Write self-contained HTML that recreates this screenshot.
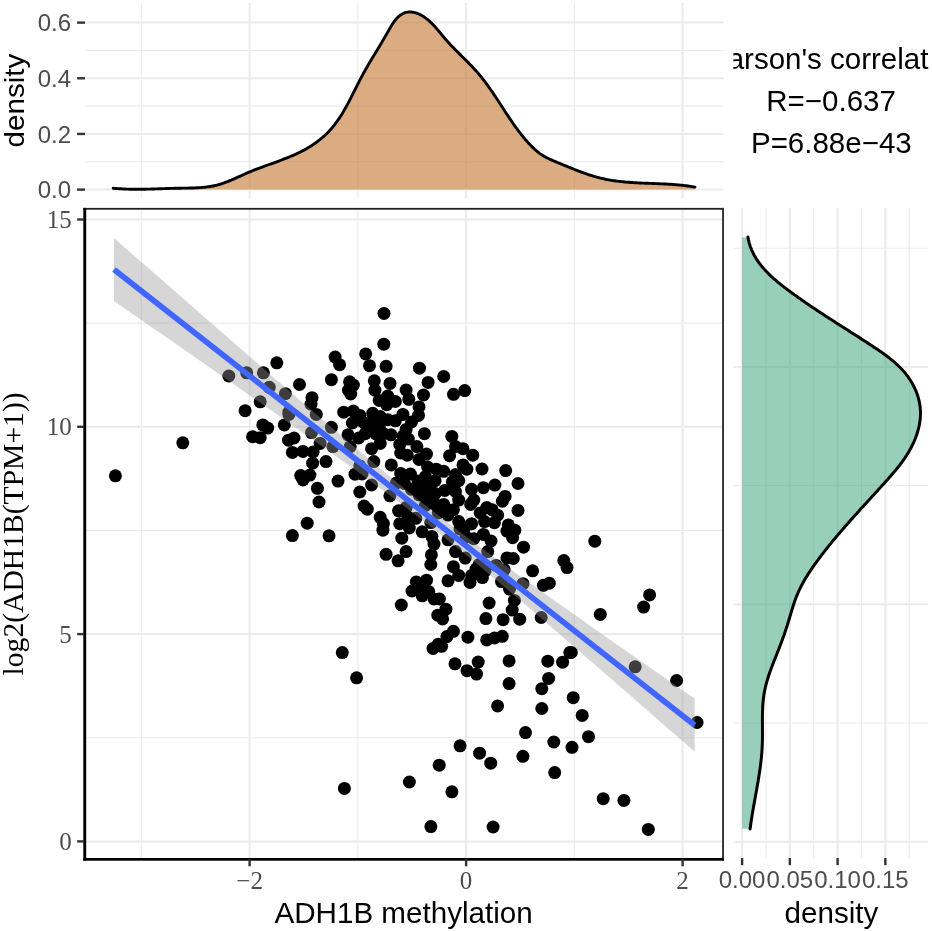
<!DOCTYPE html>
<html><head><meta charset="utf-8"><style>
html,body{margin:0;padding:0;background:#fff;}
svg{display:block;will-change:transform;}

</style></head><body>
<svg width="932" height="931" viewBox="0 0 932 931">
<rect width="932" height="931" fill="#fff"/>
<line x1="85.5" y1="189.60" x2="723.5" y2="189.60" stroke="#ebebeb" stroke-width="2.00"/>
<line x1="85.5" y1="161.77" x2="723.5" y2="161.77" stroke="#ebebeb" stroke-width="1.10"/>
<line x1="85.5" y1="133.94" x2="723.5" y2="133.94" stroke="#ebebeb" stroke-width="2.00"/>
<line x1="85.5" y1="106.11" x2="723.5" y2="106.11" stroke="#ebebeb" stroke-width="1.10"/>
<line x1="85.5" y1="78.28" x2="723.5" y2="78.28" stroke="#ebebeb" stroke-width="2.00"/>
<line x1="85.5" y1="50.45" x2="723.5" y2="50.45" stroke="#ebebeb" stroke-width="1.10"/>
<line x1="85.5" y1="22.62" x2="723.5" y2="22.62" stroke="#ebebeb" stroke-width="2.00"/>
<line x1="141.35" y1="3.0" x2="141.35" y2="198.5" stroke="#ebebeb" stroke-width="1.10"/>
<line x1="249.60" y1="3.0" x2="249.60" y2="198.5" stroke="#ebebeb" stroke-width="2.00"/>
<line x1="357.85" y1="3.0" x2="357.85" y2="198.5" stroke="#ebebeb" stroke-width="1.10"/>
<line x1="466.10" y1="3.0" x2="466.10" y2="198.5" stroke="#ebebeb" stroke-width="2.00"/>
<line x1="574.35" y1="3.0" x2="574.35" y2="198.5" stroke="#ebebeb" stroke-width="1.10"/>
<line x1="682.60" y1="3.0" x2="682.60" y2="198.5" stroke="#ebebeb" stroke-width="2.00"/>
<path d="M113.20,188.20 L114.68,188.34 L116.15,188.47 L117.63,188.59 L119.10,188.70 L120.57,188.80 L122.04,188.88 L123.51,188.96 L124.98,189.03 L126.45,189.09 L127.91,189.14 L129.38,189.18 L130.84,189.21 L132.31,189.24 L133.77,189.26 L135.23,189.27 L136.70,189.27 L138.16,189.27 L139.62,189.26 L141.08,189.25 L142.54,189.23 L144.00,189.21 L145.46,189.18 L146.92,189.15 L148.38,189.12 L149.85,189.08 L151.31,189.04 L152.77,189.00 L154.23,188.95 L155.69,188.90 L157.15,188.86 L158.62,188.81 L160.08,188.76 L161.55,188.71 L163.01,188.66 L164.48,188.61 L165.95,188.56 L167.41,188.51 L168.88,188.46 L170.35,188.42 L171.83,188.38 L173.30,188.34 L174.77,188.30 L176.25,188.27 L177.73,188.24 L179.20,188.21 L180.68,188.19 L182.17,188.17 L183.65,188.15 L185.13,188.13 L186.61,188.11 L188.09,188.09 L189.57,188.06 L191.05,188.02 L192.53,187.98 L194.01,187.93 L195.49,187.87 L196.96,187.80 L198.43,187.72 L199.89,187.63 L201.36,187.52 L202.82,187.40 L204.27,187.26 L205.73,187.10 L207.17,186.92 L208.61,186.73 L210.05,186.51 L211.48,186.26 L212.91,186.00 L214.33,185.71 L215.74,185.39 L217.14,185.04 L218.54,184.67 L219.93,184.26 L221.32,183.84 L222.69,183.38 L224.07,182.91 L225.43,182.41 L226.80,181.90 L228.16,181.37 L229.51,180.82 L230.87,180.26 L232.22,179.68 L233.57,179.10 L234.91,178.51 L236.26,177.90 L237.60,177.30 L238.95,176.69 L240.29,176.08 L241.64,175.46 L242.99,174.85 L244.34,174.24 L245.69,173.64 L247.04,173.04 L248.40,172.45 L249.76,171.87 L251.13,171.30 L252.50,170.73 L253.87,170.18 L255.24,169.64 L256.62,169.10 L258.00,168.57 L259.38,168.05 L260.77,167.54 L262.15,167.02 L263.54,166.52 L264.93,166.01 L266.31,165.51 L267.70,165.01 L269.09,164.51 L270.48,164.02 L271.87,163.52 L273.26,163.02 L274.64,162.53 L276.03,162.03 L277.41,161.52 L278.79,161.02 L280.17,160.51 L281.55,160.00 L282.93,159.48 L284.30,158.95 L285.66,158.42 L287.03,157.88 L288.39,157.33 L289.74,156.78 L291.10,156.21 L292.44,155.64 L293.78,155.05 L295.12,154.46 L296.45,153.85 L297.77,153.23 L299.09,152.59 L300.40,151.94 L301.71,151.28 L303.01,150.60 L304.30,149.91 L305.58,149.20 L306.85,148.47 L308.11,147.74 L309.36,146.98 L310.60,146.21 L311.83,145.43 L313.05,144.63 L314.26,143.81 L315.46,142.98 L316.64,142.13 L317.81,141.26 L318.96,140.38 L320.11,139.48 L321.23,138.56 L322.34,137.63 L323.44,136.68 L324.52,135.71 L325.58,134.72 L326.62,133.72 L327.65,132.70 L328.66,131.66 L329.65,130.60 L330.62,129.52 L331.57,128.43 L332.51,127.32 L333.43,126.19 L334.33,125.05 L335.22,123.89 L336.09,122.72 L336.95,121.54 L337.79,120.34 L338.62,119.13 L339.44,117.91 L340.25,116.68 L341.04,115.43 L341.82,114.18 L342.59,112.92 L343.35,111.64 L344.10,110.36 L344.84,109.08 L345.58,107.78 L346.30,106.48 L347.02,105.17 L347.73,103.86 L348.43,102.54 L349.13,101.22 L349.82,99.89 L350.51,98.56 L351.19,97.23 L351.87,95.90 L352.55,94.57 L353.22,93.23 L353.89,91.90 L354.56,90.57 L355.23,89.23 L355.90,87.90 L356.57,86.58 L357.24,85.25 L357.91,83.93 L358.58,82.61 L359.25,81.30 L359.93,80.00 L360.61,78.69 L361.29,77.40 L361.98,76.11 L362.67,74.83 L363.37,73.56 L364.07,72.29 L364.77,71.03 L365.48,69.77 L366.19,68.52 L366.91,67.27 L367.63,66.02 L368.35,64.78 L369.07,63.54 L369.80,62.30 L370.53,61.06 L371.26,59.83 L372.00,58.59 L372.74,57.36 L373.48,56.12 L374.22,54.88 L374.97,53.65 L375.71,52.41 L376.46,51.17 L377.21,49.92 L377.97,48.67 L378.72,47.42 L379.47,46.17 L380.23,44.91 L380.99,43.64 L381.75,42.37 L382.51,41.10 L383.27,39.81 L384.03,38.53 L384.79,37.23 L385.55,35.92 L386.31,34.61 L387.07,33.29 L387.83,31.96 L388.60,30.62 L389.36,29.27 L390.13,27.92 L390.91,26.58 L391.70,25.26 L392.52,23.95 L393.36,22.68 L394.22,21.44 L395.12,20.25 L396.06,19.11 L397.04,18.03 L398.07,17.01 L399.15,16.07 L400.27,15.21 L401.44,14.43 L402.65,13.75 L403.89,13.17 L405.17,12.69 L406.47,12.33 L407.80,12.08 L409.14,11.96 L410.50,11.96 L411.88,12.06 L413.25,12.27 L414.63,12.58 L416.01,12.98 L417.37,13.46 L418.72,14.01 L420.06,14.64 L421.37,15.32 L422.66,16.06 L423.91,16.85 L425.13,17.68 L426.32,18.55 L427.48,19.46 L428.61,20.40 L429.71,21.37 L430.78,22.37 L431.84,23.40 L432.88,24.45 L433.89,25.52 L434.90,26.61 L435.88,27.72 L436.86,28.84 L437.83,29.98 L438.79,31.12 L439.74,32.27 L440.69,33.42 L441.64,34.57 L442.59,35.73 L443.54,36.87 L444.50,38.01 L445.47,39.15 L446.44,40.27 L447.43,41.38 L448.42,42.48 L449.42,43.57 L450.43,44.65 L451.44,45.72 L452.46,46.79 L453.48,47.85 L454.51,48.90 L455.54,49.95 L456.57,50.99 L457.61,52.03 L458.65,53.06 L459.69,54.10 L460.73,55.13 L461.77,56.16 L462.81,57.18 L463.85,58.21 L464.88,59.24 L465.92,60.27 L466.95,61.30 L467.98,62.34 L469.00,63.38 L470.02,64.42 L471.03,65.47 L472.04,66.52 L473.04,67.58 L474.03,68.64 L475.01,69.72 L475.99,70.80 L476.95,71.89 L477.91,72.99 L478.86,74.10 L479.79,75.22 L480.72,76.34 L481.64,77.48 L482.54,78.63 L483.44,79.78 L484.33,80.94 L485.22,82.11 L486.09,83.28 L486.96,84.47 L487.83,85.66 L488.68,86.85 L489.53,88.05 L490.38,89.26 L491.22,90.47 L492.05,91.68 L492.88,92.90 L493.71,94.13 L494.53,95.35 L495.35,96.58 L496.17,97.82 L496.98,99.05 L497.79,100.29 L498.60,101.53 L499.41,102.77 L500.22,104.01 L501.03,105.25 L501.83,106.50 L502.64,107.74 L503.44,108.98 L504.25,110.22 L505.06,111.46 L505.87,112.70 L506.68,113.94 L507.50,115.17 L508.31,116.40 L509.13,117.63 L509.96,118.86 L510.78,120.08 L511.61,121.30 L512.45,122.51 L513.29,123.72 L514.13,124.93 L514.98,126.12 L515.84,127.32 L516.70,128.50 L517.57,129.68 L518.45,130.86 L519.34,132.02 L520.23,133.18 L521.13,134.33 L522.04,135.47 L522.95,136.61 L523.88,137.73 L524.82,138.85 L525.76,139.95 L526.72,141.05 L527.69,142.13 L528.67,143.20 L529.66,144.27 L530.66,145.32 L531.68,146.36 L532.71,147.38 L533.75,148.38 L534.81,149.37 L535.90,150.33 L537.00,151.27 L538.12,152.18 L539.26,153.06 L540.43,153.91 L541.63,154.73 L542.85,155.51 L544.09,156.26 L545.36,156.97 L546.66,157.66 L547.97,158.32 L549.30,158.96 L550.64,159.58 L551.99,160.18 L553.35,160.77 L554.72,161.35 L556.10,161.92 L557.48,162.49 L558.85,163.05 L560.23,163.62 L561.60,164.19 L562.98,164.76 L564.35,165.32 L565.72,165.89 L567.09,166.46 L568.46,167.02 L569.83,167.58 L571.20,168.13 L572.57,168.69 L573.94,169.23 L575.31,169.78 L576.68,170.31 L578.05,170.84 L579.43,171.37 L580.80,171.88 L582.17,172.39 L583.55,172.89 L584.93,173.38 L586.31,173.87 L587.69,174.34 L589.07,174.80 L590.46,175.25 L591.84,175.69 L593.23,176.11 L594.63,176.53 L596.02,176.93 L597.42,177.31 L598.82,177.68 L600.23,178.04 L601.64,178.38 L603.05,178.70 L604.47,179.01 L605.89,179.31 L607.31,179.59 L608.74,179.85 L610.17,180.10 L611.60,180.34 L613.04,180.56 L614.48,180.78 L615.92,180.98 L617.37,181.16 L618.81,181.34 L620.26,181.51 L621.72,181.67 L623.17,181.81 L624.63,181.95 L626.09,182.08 L627.55,182.20 L629.01,182.32 L630.47,182.43 L631.94,182.53 L633.41,182.62 L634.88,182.71 L636.35,182.79 L637.82,182.87 L639.29,182.94 L640.76,183.01 L642.24,183.08 L643.71,183.14 L645.19,183.20 L646.67,183.26 L648.14,183.31 L649.62,183.37 L651.10,183.42 L652.57,183.48 L654.05,183.53 L655.53,183.59 L657.01,183.65 L658.48,183.71 L659.96,183.77 L661.44,183.83 L662.91,183.90 L664.39,183.97 L665.86,184.04 L667.33,184.12 L668.81,184.20 L670.28,184.29 L671.75,184.39 L673.21,184.49 L674.68,184.60 L676.15,184.71 L677.61,184.84 L679.07,184.97 L680.53,185.11 L681.99,185.26 L683.44,185.42 L684.90,185.59 L686.35,185.77 L687.80,185.96 L689.24,186.17 L690.69,186.38 L692.13,186.61 L693.56,186.85 L695.00,187.10 L695,189.6 L113.2,189.6 Z" fill="#c8803d" fill-opacity="0.65"/>
<path d="M113.20,188.20 L114.68,188.34 L116.15,188.47 L117.63,188.59 L119.10,188.70 L120.57,188.80 L122.04,188.88 L123.51,188.96 L124.98,189.03 L126.45,189.09 L127.91,189.14 L129.38,189.18 L130.84,189.21 L132.31,189.24 L133.77,189.26 L135.23,189.27 L136.70,189.27 L138.16,189.27 L139.62,189.26 L141.08,189.25 L142.54,189.23 L144.00,189.21 L145.46,189.18 L146.92,189.15 L148.38,189.12 L149.85,189.08 L151.31,189.04 L152.77,189.00 L154.23,188.95 L155.69,188.90 L157.15,188.86 L158.62,188.81 L160.08,188.76 L161.55,188.71 L163.01,188.66 L164.48,188.61 L165.95,188.56 L167.41,188.51 L168.88,188.46 L170.35,188.42 L171.83,188.38 L173.30,188.34 L174.77,188.30 L176.25,188.27 L177.73,188.24 L179.20,188.21 L180.68,188.19 L182.17,188.17 L183.65,188.15 L185.13,188.13 L186.61,188.11 L188.09,188.09 L189.57,188.06 L191.05,188.02 L192.53,187.98 L194.01,187.93 L195.49,187.87 L196.96,187.80 L198.43,187.72 L199.89,187.63 L201.36,187.52 L202.82,187.40 L204.27,187.26 L205.73,187.10 L207.17,186.92 L208.61,186.73 L210.05,186.51 L211.48,186.26 L212.91,186.00 L214.33,185.71 L215.74,185.39 L217.14,185.04 L218.54,184.67 L219.93,184.26 L221.32,183.84 L222.69,183.38 L224.07,182.91 L225.43,182.41 L226.80,181.90 L228.16,181.37 L229.51,180.82 L230.87,180.26 L232.22,179.68 L233.57,179.10 L234.91,178.51 L236.26,177.90 L237.60,177.30 L238.95,176.69 L240.29,176.08 L241.64,175.46 L242.99,174.85 L244.34,174.24 L245.69,173.64 L247.04,173.04 L248.40,172.45 L249.76,171.87 L251.13,171.30 L252.50,170.73 L253.87,170.18 L255.24,169.64 L256.62,169.10 L258.00,168.57 L259.38,168.05 L260.77,167.54 L262.15,167.02 L263.54,166.52 L264.93,166.01 L266.31,165.51 L267.70,165.01 L269.09,164.51 L270.48,164.02 L271.87,163.52 L273.26,163.02 L274.64,162.53 L276.03,162.03 L277.41,161.52 L278.79,161.02 L280.17,160.51 L281.55,160.00 L282.93,159.48 L284.30,158.95 L285.66,158.42 L287.03,157.88 L288.39,157.33 L289.74,156.78 L291.10,156.21 L292.44,155.64 L293.78,155.05 L295.12,154.46 L296.45,153.85 L297.77,153.23 L299.09,152.59 L300.40,151.94 L301.71,151.28 L303.01,150.60 L304.30,149.91 L305.58,149.20 L306.85,148.47 L308.11,147.74 L309.36,146.98 L310.60,146.21 L311.83,145.43 L313.05,144.63 L314.26,143.81 L315.46,142.98 L316.64,142.13 L317.81,141.26 L318.96,140.38 L320.11,139.48 L321.23,138.56 L322.34,137.63 L323.44,136.68 L324.52,135.71 L325.58,134.72 L326.62,133.72 L327.65,132.70 L328.66,131.66 L329.65,130.60 L330.62,129.52 L331.57,128.43 L332.51,127.32 L333.43,126.19 L334.33,125.05 L335.22,123.89 L336.09,122.72 L336.95,121.54 L337.79,120.34 L338.62,119.13 L339.44,117.91 L340.25,116.68 L341.04,115.43 L341.82,114.18 L342.59,112.92 L343.35,111.64 L344.10,110.36 L344.84,109.08 L345.58,107.78 L346.30,106.48 L347.02,105.17 L347.73,103.86 L348.43,102.54 L349.13,101.22 L349.82,99.89 L350.51,98.56 L351.19,97.23 L351.87,95.90 L352.55,94.57 L353.22,93.23 L353.89,91.90 L354.56,90.57 L355.23,89.23 L355.90,87.90 L356.57,86.58 L357.24,85.25 L357.91,83.93 L358.58,82.61 L359.25,81.30 L359.93,80.00 L360.61,78.69 L361.29,77.40 L361.98,76.11 L362.67,74.83 L363.37,73.56 L364.07,72.29 L364.77,71.03 L365.48,69.77 L366.19,68.52 L366.91,67.27 L367.63,66.02 L368.35,64.78 L369.07,63.54 L369.80,62.30 L370.53,61.06 L371.26,59.83 L372.00,58.59 L372.74,57.36 L373.48,56.12 L374.22,54.88 L374.97,53.65 L375.71,52.41 L376.46,51.17 L377.21,49.92 L377.97,48.67 L378.72,47.42 L379.47,46.17 L380.23,44.91 L380.99,43.64 L381.75,42.37 L382.51,41.10 L383.27,39.81 L384.03,38.53 L384.79,37.23 L385.55,35.92 L386.31,34.61 L387.07,33.29 L387.83,31.96 L388.60,30.62 L389.36,29.27 L390.13,27.92 L390.91,26.58 L391.70,25.26 L392.52,23.95 L393.36,22.68 L394.22,21.44 L395.12,20.25 L396.06,19.11 L397.04,18.03 L398.07,17.01 L399.15,16.07 L400.27,15.21 L401.44,14.43 L402.65,13.75 L403.89,13.17 L405.17,12.69 L406.47,12.33 L407.80,12.08 L409.14,11.96 L410.50,11.96 L411.88,12.06 L413.25,12.27 L414.63,12.58 L416.01,12.98 L417.37,13.46 L418.72,14.01 L420.06,14.64 L421.37,15.32 L422.66,16.06 L423.91,16.85 L425.13,17.68 L426.32,18.55 L427.48,19.46 L428.61,20.40 L429.71,21.37 L430.78,22.37 L431.84,23.40 L432.88,24.45 L433.89,25.52 L434.90,26.61 L435.88,27.72 L436.86,28.84 L437.83,29.98 L438.79,31.12 L439.74,32.27 L440.69,33.42 L441.64,34.57 L442.59,35.73 L443.54,36.87 L444.50,38.01 L445.47,39.15 L446.44,40.27 L447.43,41.38 L448.42,42.48 L449.42,43.57 L450.43,44.65 L451.44,45.72 L452.46,46.79 L453.48,47.85 L454.51,48.90 L455.54,49.95 L456.57,50.99 L457.61,52.03 L458.65,53.06 L459.69,54.10 L460.73,55.13 L461.77,56.16 L462.81,57.18 L463.85,58.21 L464.88,59.24 L465.92,60.27 L466.95,61.30 L467.98,62.34 L469.00,63.38 L470.02,64.42 L471.03,65.47 L472.04,66.52 L473.04,67.58 L474.03,68.64 L475.01,69.72 L475.99,70.80 L476.95,71.89 L477.91,72.99 L478.86,74.10 L479.79,75.22 L480.72,76.34 L481.64,77.48 L482.54,78.63 L483.44,79.78 L484.33,80.94 L485.22,82.11 L486.09,83.28 L486.96,84.47 L487.83,85.66 L488.68,86.85 L489.53,88.05 L490.38,89.26 L491.22,90.47 L492.05,91.68 L492.88,92.90 L493.71,94.13 L494.53,95.35 L495.35,96.58 L496.17,97.82 L496.98,99.05 L497.79,100.29 L498.60,101.53 L499.41,102.77 L500.22,104.01 L501.03,105.25 L501.83,106.50 L502.64,107.74 L503.44,108.98 L504.25,110.22 L505.06,111.46 L505.87,112.70 L506.68,113.94 L507.50,115.17 L508.31,116.40 L509.13,117.63 L509.96,118.86 L510.78,120.08 L511.61,121.30 L512.45,122.51 L513.29,123.72 L514.13,124.93 L514.98,126.12 L515.84,127.32 L516.70,128.50 L517.57,129.68 L518.45,130.86 L519.34,132.02 L520.23,133.18 L521.13,134.33 L522.04,135.47 L522.95,136.61 L523.88,137.73 L524.82,138.85 L525.76,139.95 L526.72,141.05 L527.69,142.13 L528.67,143.20 L529.66,144.27 L530.66,145.32 L531.68,146.36 L532.71,147.38 L533.75,148.38 L534.81,149.37 L535.90,150.33 L537.00,151.27 L538.12,152.18 L539.26,153.06 L540.43,153.91 L541.63,154.73 L542.85,155.51 L544.09,156.26 L545.36,156.97 L546.66,157.66 L547.97,158.32 L549.30,158.96 L550.64,159.58 L551.99,160.18 L553.35,160.77 L554.72,161.35 L556.10,161.92 L557.48,162.49 L558.85,163.05 L560.23,163.62 L561.60,164.19 L562.98,164.76 L564.35,165.32 L565.72,165.89 L567.09,166.46 L568.46,167.02 L569.83,167.58 L571.20,168.13 L572.57,168.69 L573.94,169.23 L575.31,169.78 L576.68,170.31 L578.05,170.84 L579.43,171.37 L580.80,171.88 L582.17,172.39 L583.55,172.89 L584.93,173.38 L586.31,173.87 L587.69,174.34 L589.07,174.80 L590.46,175.25 L591.84,175.69 L593.23,176.11 L594.63,176.53 L596.02,176.93 L597.42,177.31 L598.82,177.68 L600.23,178.04 L601.64,178.38 L603.05,178.70 L604.47,179.01 L605.89,179.31 L607.31,179.59 L608.74,179.85 L610.17,180.10 L611.60,180.34 L613.04,180.56 L614.48,180.78 L615.92,180.98 L617.37,181.16 L618.81,181.34 L620.26,181.51 L621.72,181.67 L623.17,181.81 L624.63,181.95 L626.09,182.08 L627.55,182.20 L629.01,182.32 L630.47,182.43 L631.94,182.53 L633.41,182.62 L634.88,182.71 L636.35,182.79 L637.82,182.87 L639.29,182.94 L640.76,183.01 L642.24,183.08 L643.71,183.14 L645.19,183.20 L646.67,183.26 L648.14,183.31 L649.62,183.37 L651.10,183.42 L652.57,183.48 L654.05,183.53 L655.53,183.59 L657.01,183.65 L658.48,183.71 L659.96,183.77 L661.44,183.83 L662.91,183.90 L664.39,183.97 L665.86,184.04 L667.33,184.12 L668.81,184.20 L670.28,184.29 L671.75,184.39 L673.21,184.49 L674.68,184.60 L676.15,184.71 L677.61,184.84 L679.07,184.97 L680.53,185.11 L681.99,185.26 L683.44,185.42 L684.90,185.59 L686.35,185.77 L687.80,185.96 L689.24,186.17 L690.69,186.38 L692.13,186.61 L693.56,186.85 L695.00,187.10" fill="none" stroke="#000" stroke-width="2.9" stroke-linecap="round" stroke-linejoin="round"/>
<line x1="77.1" y1="189.60" x2="85" y2="189.60" stroke="#333333" stroke-width="2.4"/>
<text x="71" y="198.20" text-anchor="end" font-family="Liberation Sans" font-size="24" fill="#4d4d4d">0.0</text>
<line x1="77.1" y1="133.94" x2="85" y2="133.94" stroke="#333333" stroke-width="2.4"/>
<text x="71" y="142.54" text-anchor="end" font-family="Liberation Sans" font-size="24" fill="#4d4d4d">0.2</text>
<line x1="77.1" y1="78.28" x2="85" y2="78.28" stroke="#333333" stroke-width="2.4"/>
<text x="71" y="86.88" text-anchor="end" font-family="Liberation Sans" font-size="24" fill="#4d4d4d">0.4</text>
<line x1="77.1" y1="22.62" x2="85" y2="22.62" stroke="#333333" stroke-width="2.4"/>
<text x="71" y="31.22" text-anchor="end" font-family="Liberation Sans" font-size="24" fill="#4d4d4d">0.6</text>
<text transform="translate(23.6,100.5) rotate(-90) scale(1,0.95)" text-anchor="middle" font-family="Liberation Sans" font-size="29.6" fill="#000">density</text>
<line x1="85.2" y1="841.40" x2="723.0" y2="841.40" stroke="#ebebeb" stroke-width="2.00"/>
<line x1="85.2" y1="737.75" x2="723.0" y2="737.75" stroke="#ebebeb" stroke-width="1.10"/>
<line x1="85.2" y1="634.10" x2="723.0" y2="634.10" stroke="#ebebeb" stroke-width="2.00"/>
<line x1="85.2" y1="530.45" x2="723.0" y2="530.45" stroke="#ebebeb" stroke-width="1.10"/>
<line x1="85.2" y1="426.80" x2="723.0" y2="426.80" stroke="#ebebeb" stroke-width="2.00"/>
<line x1="85.2" y1="323.15" x2="723.0" y2="323.15" stroke="#ebebeb" stroke-width="1.10"/>
<line x1="85.2" y1="219.50" x2="723.0" y2="219.50" stroke="#ebebeb" stroke-width="2.00"/>
<line x1="141.35" y1="208.7" x2="141.35" y2="859.3" stroke="#ebebeb" stroke-width="1.10"/>
<line x1="249.60" y1="208.7" x2="249.60" y2="859.3" stroke="#ebebeb" stroke-width="2.00"/>
<line x1="357.85" y1="208.7" x2="357.85" y2="859.3" stroke="#ebebeb" stroke-width="1.10"/>
<line x1="466.10" y1="208.7" x2="466.10" y2="859.3" stroke="#ebebeb" stroke-width="2.00"/>
<line x1="574.35" y1="208.7" x2="574.35" y2="859.3" stroke="#ebebeb" stroke-width="1.10"/>
<line x1="682.60" y1="208.7" x2="682.60" y2="859.3" stroke="#ebebeb" stroke-width="2.00"/>
<g fill="#000"><circle cx="115.4" cy="475.8" r="6.5"/><circle cx="182.8" cy="442.8" r="6.5"/><circle cx="228.8" cy="376.0" r="6.5"/><circle cx="246.7" cy="372.8" r="6.5"/><circle cx="263.4" cy="372.8" r="6.5"/><circle cx="276.8" cy="362.8" r="6.5"/><circle cx="269.3" cy="387.3" r="6.5"/><circle cx="285.4" cy="393.7" r="6.5"/><circle cx="260.2" cy="401.8" r="6.5"/><circle cx="245.1" cy="410.7" r="6.5"/><circle cx="288.9" cy="412.0" r="6.5"/><circle cx="288.9" cy="414.5" r="6.5"/><circle cx="262.8" cy="424.9" r="6.5"/><circle cx="267.7" cy="428.1" r="6.5"/><circle cx="284.3" cy="424.9" r="6.5"/><circle cx="252.6" cy="436.7" r="6.5"/><circle cx="260.2" cy="437.7" r="6.5"/><circle cx="292.4" cy="452.4" r="6.5"/><circle cx="292.4" cy="535.6" r="6.5"/><circle cx="384.0" cy="313.4" r="6.5"/><circle cx="383.8" cy="344.2" r="6.5"/><circle cx="365.7" cy="353.9" r="6.5"/><circle cx="335.1" cy="357.1" r="6.5"/><circle cx="339.6" cy="364.7" r="6.5"/><circle cx="369.5" cy="365.7" r="6.5"/><circle cx="386.1" cy="366.3" r="6.5"/><circle cx="331.4" cy="379.7" r="6.5"/><circle cx="299.5" cy="384.5" r="6.5"/><circle cx="349.6" cy="381.8" r="6.5"/><circle cx="353.4" cy="385.1" r="6.5"/><circle cx="374.3" cy="380.8" r="6.5"/><circle cx="390.0" cy="383.4" r="6.5"/><circle cx="348.5" cy="390.2" r="6.5"/><circle cx="350.7" cy="394.0" r="6.5"/><circle cx="374.9" cy="390.2" r="6.5"/><circle cx="379.2" cy="400.4" r="6.5"/><circle cx="387.7" cy="396.1" r="6.5"/><circle cx="386.7" cy="404.7" r="6.5"/><circle cx="312.0" cy="397.7" r="6.5"/><circle cx="311.0" cy="404.2" r="6.5"/><circle cx="316.3" cy="414.4" r="6.5"/><circle cx="343.7" cy="412.2" r="6.5"/><circle cx="353.4" cy="411.1" r="6.5"/><circle cx="359.8" cy="415.4" r="6.5"/><circle cx="372.7" cy="413.3" r="6.5"/><circle cx="380.2" cy="416.5" r="6.5"/><circle cx="387.7" cy="419.7" r="6.5"/><circle cx="352.3" cy="423.0" r="6.5"/><circle cx="363.0" cy="421.9" r="6.5"/><circle cx="367.3" cy="428.3" r="6.5"/><circle cx="331.4" cy="427.3" r="6.5"/><circle cx="311.5" cy="432.6" r="6.5"/><circle cx="348.0" cy="434.8" r="6.5"/><circle cx="358.7" cy="438.0" r="6.5"/><circle cx="365.2" cy="433.7" r="6.5"/><circle cx="379.2" cy="427.3" r="6.5"/><circle cx="383.4" cy="433.7" r="6.5"/><circle cx="320.1" cy="443.4" r="6.5"/><circle cx="333.0" cy="446.6" r="6.5"/><circle cx="350.2" cy="446.6" r="6.5"/><circle cx="380.2" cy="443.4" r="6.5"/><circle cx="371.6" cy="448.7" r="6.5"/><circle cx="302.9" cy="451.4" r="6.5"/><circle cx="313.1" cy="452.0" r="6.5"/><circle cx="312.6" cy="463.2" r="6.5"/><circle cx="326.0" cy="461.6" r="6.5"/><circle cx="373.8" cy="461.6" r="6.5"/><circle cx="359.8" cy="465.9" r="6.5"/><circle cx="300.7" cy="475.6" r="6.5"/><circle cx="309.9" cy="475.1" r="6.5"/><circle cx="419.5" cy="368.2" r="6.5"/><circle cx="443.7" cy="376.5" r="6.5"/><circle cx="428.1" cy="382.4" r="6.5"/><circle cx="408.8" cy="399.3" r="6.5"/><circle cx="395.4" cy="401.5" r="6.5"/><circle cx="419.0" cy="406.9" r="6.5"/><circle cx="418.5" cy="415.4" r="6.5"/><circle cx="402.9" cy="414.4" r="6.5"/><circle cx="395.4" cy="420.8" r="6.5"/><circle cx="411.5" cy="421.9" r="6.5"/><circle cx="406.1" cy="429.4" r="6.5"/><circle cx="408.3" cy="439.1" r="6.5"/><circle cx="424.4" cy="433.7" r="6.5"/><circle cx="451.8" cy="436.4" r="6.5"/><circle cx="399.7" cy="444.4" r="6.5"/><circle cx="416.9" cy="446.6" r="6.5"/><circle cx="400.7" cy="453.0" r="6.5"/><circle cx="407.2" cy="455.2" r="6.5"/><circle cx="426.5" cy="454.1" r="6.5"/><circle cx="419.0" cy="459.5" r="6.5"/><circle cx="455.5" cy="446.6" r="6.5"/><circle cx="463.0" cy="448.7" r="6.5"/><circle cx="449.6" cy="455.7" r="6.5"/><circle cx="472.7" cy="455.2" r="6.5"/><circle cx="463.0" cy="464.9" r="6.5"/><circle cx="466.8" cy="469.2" r="6.5"/><circle cx="400.7" cy="473.4" r="6.5"/><circle cx="410.4" cy="474.0" r="6.5"/><circle cx="427.6" cy="467.0" r="6.5"/><circle cx="436.2" cy="469.2" r="6.5"/><circle cx="443.7" cy="471.3" r="6.5"/><circle cx="425.4" cy="476.7" r="6.5"/><circle cx="455.5" cy="474.5" r="6.5"/><circle cx="303.0" cy="480.0" r="6.5"/><circle cx="317.4" cy="488.3" r="6.5"/><circle cx="319.0" cy="502.0" r="6.5"/><circle cx="371.6" cy="485.0" r="6.5"/><circle cx="359.8" cy="492.0" r="6.5"/><circle cx="364.1" cy="506.0" r="6.5"/><circle cx="367.3" cy="509.2" r="6.5"/><circle cx="380.2" cy="517.3" r="6.5"/><circle cx="383.4" cy="523.7" r="6.5"/><circle cx="382.9" cy="530.2" r="6.5"/><circle cx="389.9" cy="495.8" r="6.5"/><circle cx="307.2" cy="523.2" r="6.5"/><circle cx="329.0" cy="535.8" r="6.5"/><circle cx="386.1" cy="554.3" r="6.5"/><circle cx="435.1" cy="480.7" r="6.5"/><circle cx="452.3" cy="481.8" r="6.5"/><circle cx="458.7" cy="480.7" r="6.5"/><circle cx="396.4" cy="482.9" r="6.5"/><circle cx="411.5" cy="489.3" r="6.5"/><circle cx="420.1" cy="486.1" r="6.5"/><circle cx="429.7" cy="487.2" r="6.5"/><circle cx="435.1" cy="493.6" r="6.5"/><circle cx="444.8" cy="490.4" r="6.5"/><circle cx="455.5" cy="491.5" r="6.5"/><circle cx="471.6" cy="489.3" r="6.5"/><circle cx="483.4" cy="487.7" r="6.5"/><circle cx="458.7" cy="500.1" r="6.5"/><circle cx="473.8" cy="500.1" r="6.5"/><circle cx="398.6" cy="510.8" r="6.5"/><circle cx="406.1" cy="507.6" r="6.5"/><circle cx="415.8" cy="518.3" r="6.5"/><circle cx="425.4" cy="505.4" r="6.5"/><circle cx="435.1" cy="504.4" r="6.5"/><circle cx="443.7" cy="504.4" r="6.5"/><circle cx="453.4" cy="509.7" r="6.5"/><circle cx="438.3" cy="513.0" r="6.5"/><circle cx="448.0" cy="515.1" r="6.5"/><circle cx="458.7" cy="521.6" r="6.5"/><circle cx="465.2" cy="526.9" r="6.5"/><circle cx="471.6" cy="523.7" r="6.5"/><circle cx="480.2" cy="513.0" r="6.5"/><circle cx="486.7" cy="507.6" r="6.5"/><circle cx="484.5" cy="521.6" r="6.5"/><circle cx="430.8" cy="522.6" r="6.5"/><circle cx="399.7" cy="523.7" r="6.5"/><circle cx="409.3" cy="528.0" r="6.5"/><circle cx="422.2" cy="531.8" r="6.5"/><circle cx="401.8" cy="538.2" r="6.5"/><circle cx="431.9" cy="536.6" r="6.5"/><circle cx="434.0" cy="544.1" r="6.5"/><circle cx="448.0" cy="539.8" r="6.5"/><circle cx="473.8" cy="538.7" r="6.5"/><circle cx="483.4" cy="534.4" r="6.5"/><circle cx="406.1" cy="551.6" r="6.5"/><circle cx="398.1" cy="560.8" r="6.5"/><circle cx="431.4" cy="554.9" r="6.5"/><circle cx="430.8" cy="564.5" r="6.5"/><circle cx="455.5" cy="551.6" r="6.5"/><circle cx="465.2" cy="558.1" r="6.5"/><circle cx="453.4" cy="566.7" r="6.5"/><circle cx="479.1" cy="564.5" r="6.5"/><circle cx="487.7" cy="551.6" r="6.5"/><circle cx="505.7" cy="470.6" r="6.5"/><circle cx="518.0" cy="483.5" r="6.5"/><circle cx="494.9" cy="485.1" r="6.5"/><circle cx="505.1" cy="496.4" r="6.5"/><circle cx="502.4" cy="501.2" r="6.5"/><circle cx="470.7" cy="504.4" r="6.5"/><circle cx="492.2" cy="509.8" r="6.5"/><circle cx="497.6" cy="515.2" r="6.5"/><circle cx="518.0" cy="510.4" r="6.5"/><circle cx="494.4" cy="522.7" r="6.5"/><circle cx="508.3" cy="524.9" r="6.5"/><circle cx="514.8" cy="530.2" r="6.5"/><circle cx="512.6" cy="537.7" r="6.5"/><circle cx="506.9" cy="531.1" r="6.5"/><circle cx="523.5" cy="547.2" r="6.5"/><circle cx="506.9" cy="557.9" r="6.5"/><circle cx="513.3" cy="558.5" r="6.5"/><circle cx="496.1" cy="565.4" r="6.5"/><circle cx="504.2" cy="569.7" r="6.5"/><circle cx="532.6" cy="570.8" r="6.5"/><circle cx="563.8" cy="560.6" r="6.5"/><circle cx="567.0" cy="567.6" r="6.5"/><circle cx="523.0" cy="583.7" r="6.5"/><circle cx="501.5" cy="581.6" r="6.5"/><circle cx="509.5" cy="589.1" r="6.5"/><circle cx="543.4" cy="585.3" r="6.5"/><circle cx="549.3" cy="583.2" r="6.5"/><circle cx="489.1" cy="603.0" r="6.5"/><circle cx="514.4" cy="600.4" r="6.5"/><circle cx="512.2" cy="610.0" r="6.5"/><circle cx="485.9" cy="618.6" r="6.5"/><circle cx="503.1" cy="619.7" r="6.5"/><circle cx="519.7" cy="619.2" r="6.5"/><circle cx="541.2" cy="617.5" r="6.5"/><circle cx="458.7" cy="575.4" r="6.5"/><circle cx="448.0" cy="580.8" r="6.5"/><circle cx="471.6" cy="575.4" r="6.5"/><circle cx="482.4" cy="577.6" r="6.5"/><circle cx="470.0" cy="582.4" r="6.5"/><circle cx="416.3" cy="581.9" r="6.5"/><circle cx="426.5" cy="580.2" r="6.5"/><circle cx="412.0" cy="591.0" r="6.5"/><circle cx="422.2" cy="595.8" r="6.5"/><circle cx="428.7" cy="591.5" r="6.5"/><circle cx="434.0" cy="599.0" r="6.5"/><circle cx="439.4" cy="599.0" r="6.5"/><circle cx="401.3" cy="605.0" r="6.5"/><circle cx="445.9" cy="609.2" r="6.5"/><circle cx="437.8" cy="615.2" r="6.5"/><circle cx="442.6" cy="618.9" r="6.5"/><circle cx="453.4" cy="631.3" r="6.5"/><circle cx="446.9" cy="636.6" r="6.5"/><circle cx="438.3" cy="644.2" r="6.5"/><circle cx="433.0" cy="648.4" r="6.5"/><circle cx="441.6" cy="646.3" r="6.5"/><circle cx="467.9" cy="637.2" r="6.5"/><circle cx="486.7" cy="639.9" r="6.5"/><circle cx="342.3" cy="652.6" r="6.5"/><circle cx="356.6" cy="677.8" r="6.5"/><circle cx="344.4" cy="788.4" r="6.5"/><circle cx="494.5" cy="638.0" r="6.5"/><circle cx="502.3" cy="636.3" r="6.5"/><circle cx="455.0" cy="663.8" r="6.5"/><circle cx="478.2" cy="662.1" r="6.5"/><circle cx="467.0" cy="670.7" r="6.5"/><circle cx="476.5" cy="674.1" r="6.5"/><circle cx="509.1" cy="660.9" r="6.5"/><circle cx="547.8" cy="661.2" r="6.5"/><circle cx="548.6" cy="678.4" r="6.5"/><circle cx="541.8" cy="688.7" r="6.5"/><circle cx="509.1" cy="683.6" r="6.5"/><circle cx="497.6" cy="705.9" r="6.5"/><circle cx="541.8" cy="708.5" r="6.5"/><circle cx="525.5" cy="732.6" r="6.5"/><circle cx="553.8" cy="742.0" r="6.5"/><circle cx="460.1" cy="745.8" r="6.5"/><circle cx="479.6" cy="753.2" r="6.5"/><circle cx="490.7" cy="763.2" r="6.5"/><circle cx="522.9" cy="756.3" r="6.5"/><circle cx="439.2" cy="765.2" r="6.5"/><circle cx="554.7" cy="772.6" r="6.5"/><circle cx="409.4" cy="782.0" r="6.5"/><circle cx="451.9" cy="791.8" r="6.5"/><circle cx="430.9" cy="826.6" r="6.5"/><circle cx="493.1" cy="827.0" r="6.5"/><circle cx="573.2" cy="697.7" r="6.5"/><circle cx="582.2" cy="715.4" r="6.5"/><circle cx="572.0" cy="747.3" r="6.5"/><circle cx="588.5" cy="736.7" r="6.5"/><circle cx="603.2" cy="798.7" r="6.5"/><circle cx="623.9" cy="800.4" r="6.5"/><circle cx="648.3" cy="829.4" r="6.5"/><circle cx="676.6" cy="680.5" r="6.5"/><circle cx="697.1" cy="722.5" r="6.5"/><circle cx="594.8" cy="541.2" r="6.5"/><circle cx="649.6" cy="594.9" r="6.5"/><circle cx="643.6" cy="607.1" r="6.5"/><circle cx="600.3" cy="614.4" r="6.5"/><circle cx="562.6" cy="662.2" r="6.5"/><circle cx="635.2" cy="666.8" r="6.5"/><circle cx="372.0" cy="423.0" r="6.5"/><circle cx="376.0" cy="434.0" r="6.5"/><circle cx="418.0" cy="481.0" r="6.5"/><circle cx="403.0" cy="436.0" r="6.5"/><circle cx="404.5" cy="483.5" r="6.5"/><circle cx="419.0" cy="495.0" r="6.5"/><circle cx="428.0" cy="496.0" r="6.5"/><circle cx="408.0" cy="517.0" r="6.5"/><circle cx="362.0" cy="474.0" r="6.5"/><circle cx="569.8" cy="652.6" r="6.5"/><circle cx="571.3" cy="652.4" r="6.5"/><circle cx="391.3" cy="464.9" r="6.5"/><circle cx="391.0" cy="434.8" r="6.5"/><circle cx="482.0" cy="469.0" r="6.5"/><circle cx="288.5" cy="440.2" r="6.5"/><circle cx="294.0" cy="438.0" r="6.5"/><circle cx="419.5" cy="587.5" r="6.5"/><circle cx="485.0" cy="571.0" r="6.5"/><circle cx="476.0" cy="569.0" r="6.5"/><circle cx="453.5" cy="394.3" r="6.5"/><circle cx="464.7" cy="390.6" r="6.5"/><circle cx="423.5" cy="395.0" r="6.5"/><circle cx="406.1" cy="390.0" r="6.5"/><circle cx="338.0" cy="481.1" r="6.5"/><circle cx="355.0" cy="474.2" r="6.5"/><circle cx="460.0" cy="529.0" r="6.5"/><circle cx="491.0" cy="541.0" r="6.5"/><circle cx="466.0" cy="537.0" r="6.5"/></g>
<polygon points="114.00,237.94 123.68,246.43 133.36,254.91 143.03,263.39 152.71,271.87 162.39,280.34 172.07,288.81 181.75,297.28 191.43,305.75 201.11,314.21 210.78,322.66 220.46,331.11 230.14,339.56 239.82,347.99 249.50,356.42 259.18,364.84 268.85,373.26 278.53,381.66 288.21,390.04 297.89,398.42 307.57,406.77 317.25,415.10 326.92,423.42 336.60,431.70 346.28,439.95 355.96,448.16 365.64,456.33 375.31,464.45 384.99,472.50 394.67,480.49 404.35,488.39 414.03,496.21 423.71,503.93 433.39,511.56 443.06,519.09 452.74,526.51 462.42,533.85 472.10,541.10 481.78,548.28 491.46,555.39 501.13,562.44 510.81,569.45 520.49,576.41 530.17,583.33 539.85,590.23 549.53,597.10 559.20,603.95 568.88,610.77 578.56,617.59 588.24,624.38 597.92,631.17 607.60,637.94 617.27,644.71 626.95,651.47 636.63,658.22 646.31,664.96 655.99,671.70 665.67,678.43 675.34,685.16 685.02,691.88 694.70,698.60 694.70,751.80 685.02,743.33 675.34,734.86 665.67,726.40 655.99,717.94 646.31,709.49 636.63,701.04 626.95,692.60 617.27,684.17 607.60,675.75 597.92,667.33 588.24,658.93 578.56,650.53 568.88,642.16 559.20,633.79 549.53,625.45 539.85,617.13 530.17,608.84 520.49,600.57 510.81,592.34 501.13,584.16 491.46,576.02 481.78,567.94 472.10,559.93 462.42,551.99 452.74,544.14 443.06,536.37 433.39,528.71 423.71,521.15 414.03,513.68 404.35,506.31 394.67,499.02 384.99,491.82 375.31,484.68 365.64,477.61 355.96,470.59 346.28,463.61 336.60,456.67 326.92,449.76 317.25,442.89 307.57,436.03 297.89,429.19 288.21,422.38 278.53,415.57 268.85,408.78 259.18,402.01 249.50,395.24 239.82,388.48 230.14,381.72 220.46,374.98 210.78,368.24 201.11,361.50 191.43,354.77 181.75,348.05 172.07,341.33 162.39,334.61 152.71,327.89 143.03,321.18 133.36,314.47 123.68,307.76 114.00,301.06" fill="#999999" fill-opacity="0.4"/>
<line x1="114.0" y1="269.5" x2="694.7" y2="725.2" stroke="#4166FF" stroke-width="5.8"/>
<rect x="83.3" y="207.9" width="640.7" height="1.8" fill="#222222"/>
<rect x="722.1" y="207.9" width="1.9" height="652.8" fill="#303030"/>
<rect x="83.3" y="207.9" width="2.9" height="652.8" fill="#000"/>
<rect x="83.3" y="858.0" width="640.7" height="2.7" fill="#000"/>
<line x1="77.2" y1="841.40" x2="84" y2="841.40" stroke="#333333" stroke-width="2.4"/>
<text x="71.8" y="849.80" text-anchor="end" font-family="Liberation Serif" font-size="25" fill="#4d4d4d">0</text>
<line x1="77.2" y1="634.10" x2="84" y2="634.10" stroke="#333333" stroke-width="2.4"/>
<text x="71.8" y="642.50" text-anchor="end" font-family="Liberation Serif" font-size="25" fill="#4d4d4d">5</text>
<line x1="77.2" y1="426.80" x2="84" y2="426.80" stroke="#333333" stroke-width="2.4"/>
<text x="71.8" y="435.20" text-anchor="end" font-family="Liberation Serif" font-size="25" fill="#4d4d4d">10</text>
<line x1="77.2" y1="219.50" x2="84" y2="219.50" stroke="#333333" stroke-width="2.4"/>
<text x="71.8" y="227.90" text-anchor="end" font-family="Liberation Serif" font-size="25" fill="#4d4d4d">15</text>
<line x1="249.60" y1="859" x2="249.60" y2="866.3" stroke="#333333" stroke-width="2.4"/>
<text x="249.60" y="888.8" text-anchor="middle" font-family="Liberation Serif" font-size="25" fill="#4d4d4d">−2</text>
<line x1="466.10" y1="859" x2="466.10" y2="866.3" stroke="#333333" stroke-width="2.4"/>
<text x="466.10" y="888.8" text-anchor="middle" font-family="Liberation Serif" font-size="25" fill="#4d4d4d">0</text>
<line x1="682.60" y1="859" x2="682.60" y2="866.3" stroke="#333333" stroke-width="2.4"/>
<text x="682.60" y="888.8" text-anchor="middle" font-family="Liberation Serif" font-size="25" fill="#4d4d4d">2</text>
<text x="403.6" y="922.5" text-anchor="middle" font-family="Liberation Sans" font-size="29.6" fill="#000">ADH1B methylation</text>
<text transform="translate(23.1,533.9) rotate(-90)" text-anchor="middle" font-family="Liberation Serif" font-size="29.6" fill="#000">log2(ADH1B(TPM+1))</text>
<line x1="742.10" y1="208.0" x2="742.10" y2="858.0" stroke="#ebebeb" stroke-width="2.00"/>
<line x1="765.98" y1="208.0" x2="765.98" y2="858.0" stroke="#ebebeb" stroke-width="1.10"/>
<line x1="789.85" y1="208.0" x2="789.85" y2="858.0" stroke="#ebebeb" stroke-width="2.00"/>
<line x1="813.73" y1="208.0" x2="813.73" y2="858.0" stroke="#ebebeb" stroke-width="1.10"/>
<line x1="837.60" y1="208.0" x2="837.60" y2="858.0" stroke="#ebebeb" stroke-width="2.00"/>
<line x1="861.48" y1="208.0" x2="861.48" y2="858.0" stroke="#ebebeb" stroke-width="1.10"/>
<line x1="885.35" y1="208.0" x2="885.35" y2="858.0" stroke="#ebebeb" stroke-width="2.00"/>
<line x1="909.23" y1="208.0" x2="909.23" y2="858.0" stroke="#ebebeb" stroke-width="1.10"/>
<line x1="733.7" y1="841.70" x2="928.0" y2="841.70" stroke="#ebebeb" stroke-width="2.00"/>
<line x1="733.7" y1="723.00" x2="928.0" y2="723.00" stroke="#ebebeb" stroke-width="1.10"/>
<line x1="733.7" y1="604.30" x2="928.0" y2="604.30" stroke="#ebebeb" stroke-width="2.00"/>
<line x1="733.7" y1="485.60" x2="928.0" y2="485.60" stroke="#ebebeb" stroke-width="1.10"/>
<line x1="733.7" y1="366.90" x2="928.0" y2="366.90" stroke="#ebebeb" stroke-width="2.00"/>
<line x1="733.7" y1="248.20" x2="928.0" y2="248.20" stroke="#ebebeb" stroke-width="1.10"/>
<path d="M742.1,237.5 L747.9,237.5 L747.90,236.90 L748.17,238.39 L748.47,239.87 L748.81,241.32 L749.18,242.75 L749.59,244.16 L750.03,245.55 L750.50,246.92 L751.01,248.28 L751.54,249.61 L752.11,250.92 L752.71,252.22 L753.33,253.50 L753.98,254.76 L754.66,256.00 L755.37,257.22 L756.10,258.43 L756.86,259.63 L757.64,260.81 L758.45,261.97 L759.28,263.12 L760.13,264.25 L761.00,265.37 L761.90,266.47 L762.81,267.56 L763.74,268.64 L764.69,269.70 L765.66,270.76 L766.65,271.80 L767.65,272.82 L768.66,273.84 L769.70,274.85 L770.74,275.84 L771.80,276.83 L772.87,277.80 L773.96,278.76 L775.05,279.72 L776.15,280.67 L777.27,281.61 L778.39,282.54 L779.52,283.46 L780.66,284.37 L781.80,285.28 L782.95,286.18 L784.11,287.08 L785.27,287.96 L786.43,288.85 L787.60,289.72 L788.77,290.60 L789.94,291.46 L791.11,292.33 L792.28,293.19 L793.45,294.04 L794.63,294.89 L795.80,295.74 L796.98,296.58 L798.15,297.42 L799.33,298.26 L800.51,299.09 L801.69,299.92 L802.87,300.74 L804.05,301.56 L805.24,302.38 L806.42,303.20 L807.61,304.01 L808.79,304.82 L809.98,305.63 L811.17,306.43 L812.36,307.23 L813.55,308.03 L814.74,308.83 L815.93,309.62 L817.12,310.42 L818.31,311.21 L819.51,312.00 L820.70,312.78 L821.90,313.57 L823.10,314.35 L824.29,315.13 L825.49,315.91 L826.69,316.69 L827.89,317.47 L829.09,318.25 L830.29,319.02 L831.49,319.80 L832.70,320.57 L833.90,321.34 L835.11,322.12 L836.31,322.89 L837.52,323.66 L838.72,324.43 L839.93,325.20 L841.14,325.97 L842.35,326.74 L843.56,327.52 L844.77,328.29 L845.98,329.06 L847.19,329.83 L848.40,330.60 L849.62,331.38 L850.83,332.15 L852.05,332.93 L853.26,333.70 L854.48,334.48 L855.69,335.26 L856.91,336.04 L858.13,336.82 L859.34,337.60 L860.56,338.38 L861.78,339.17 L863.00,339.96 L864.22,340.74 L865.44,341.54 L866.66,342.33 L867.88,343.12 L869.11,343.92 L870.33,344.72 L871.55,345.52 L872.77,346.33 L874.00,347.14 L875.22,347.95 L876.44,348.76 L877.65,349.59 L878.86,350.41 L880.07,351.24 L881.28,352.08 L882.47,352.93 L883.67,353.78 L884.85,354.64 L886.03,355.51 L887.20,356.38 L888.36,357.27 L889.51,358.17 L890.65,359.07 L891.78,359.99 L892.89,360.91 L894.00,361.85 L895.09,362.80 L896.17,363.76 L897.23,364.74 L898.28,365.73 L899.31,366.73 L900.33,367.75 L901.32,368.78 L902.30,369.83 L903.27,370.89 L904.21,371.97 L905.13,373.07 L906.03,374.18 L906.91,375.31 L907.77,376.46 L908.60,377.63 L909.42,378.81 L910.20,380.01 L910.97,381.22 L911.71,382.45 L912.42,383.69 L913.11,384.95 L913.77,386.22 L914.40,387.50 L915.00,388.80 L915.58,390.11 L916.13,391.42 L916.65,392.75 L917.14,394.09 L917.59,395.44 L918.02,396.80 L918.41,398.17 L918.78,399.54 L919.10,400.93 L919.40,402.32 L919.66,403.71 L919.89,405.12 L920.08,406.52 L920.23,407.94 L920.35,409.35 L920.43,410.77 L920.48,412.20 L920.48,413.63 L920.45,415.05 L920.39,416.49 L920.29,417.92 L920.15,419.35 L919.98,420.78 L919.78,422.21 L919.55,423.64 L919.28,425.06 L918.99,426.48 L918.66,427.90 L918.31,429.32 L917.93,430.73 L917.52,432.13 L917.08,433.53 L916.62,434.92 L916.13,436.30 L915.62,437.67 L915.09,439.04 L914.53,440.39 L913.95,441.74 L913.35,443.07 L912.73,444.39 L912.09,445.70 L911.44,447.00 L910.76,448.28 L910.06,449.56 L909.35,450.81 L908.63,452.06 L907.88,453.30 L907.12,454.52 L906.35,455.73 L905.56,456.94 L904.76,458.13 L903.94,459.31 L903.12,460.49 L902.28,461.65 L901.42,462.81 L900.56,463.96 L899.69,465.10 L898.81,466.23 L897.91,467.36 L897.01,468.48 L896.10,469.59 L895.19,470.70 L894.26,471.81 L893.33,472.90 L892.39,474.00 L891.45,475.09 L890.50,476.18 L889.55,477.26 L888.60,478.34 L887.64,479.42 L886.68,480.50 L885.71,481.57 L884.75,482.64 L883.78,483.72 L882.81,484.79 L881.84,485.86 L880.87,486.93 L879.90,488.00 L878.93,489.07 L877.96,490.14 L876.99,491.21 L876.01,492.27 L875.04,493.34 L874.06,494.41 L873.09,495.48 L872.12,496.54 L871.14,497.61 L870.17,498.68 L869.19,499.75 L868.22,500.81 L867.24,501.88 L866.27,502.95 L865.30,504.02 L864.32,505.08 L863.35,506.15 L862.38,507.22 L861.40,508.29 L860.43,509.36 L859.46,510.43 L858.49,511.50 L857.52,512.58 L856.56,513.65 L855.59,514.72 L854.62,515.80 L853.66,516.87 L852.70,517.95 L851.73,519.03 L850.77,520.11 L849.82,521.19 L848.86,522.27 L847.90,523.35 L846.95,524.44 L846.00,525.52 L845.05,526.61 L844.10,527.70 L843.15,528.79 L842.21,529.88 L841.27,530.97 L840.33,532.07 L839.39,533.17 L838.46,534.26 L837.52,535.37 L836.59,536.47 L835.67,537.57 L834.74,538.68 L833.82,539.79 L832.90,540.90 L831.98,542.01 L831.07,543.13 L830.16,544.25 L829.26,545.37 L828.35,546.49 L827.45,547.62 L826.56,548.75 L825.66,549.88 L824.77,551.01 L823.89,552.15 L823.00,553.29 L822.13,554.43 L821.25,555.58 L820.38,556.73 L819.51,557.88 L818.65,559.04 L817.79,560.19 L816.94,561.36 L816.09,562.52 L815.25,563.69 L814.41,564.86 L813.58,566.04 L812.75,567.22 L811.94,568.41 L811.13,569.60 L810.33,570.79 L809.54,571.99 L808.76,573.19 L807.98,574.40 L807.22,575.62 L806.47,576.84 L805.73,578.06 L804.99,579.30 L804.28,580.53 L803.57,581.78 L802.88,583.03 L802.19,584.28 L801.53,585.54 L800.87,586.81 L800.23,588.09 L799.61,589.37 L799.00,590.66 L798.41,591.96 L797.83,593.27 L797.27,594.58 L796.73,595.90 L796.20,597.23 L795.69,598.56 L795.19,599.90 L794.71,601.25 L794.24,602.61 L793.79,603.97 L793.34,605.33 L792.90,606.70 L792.47,608.08 L792.05,609.46 L791.63,610.83 L791.22,612.22 L790.81,613.60 L790.40,614.99 L789.99,616.37 L789.58,617.76 L789.17,619.14 L788.75,620.53 L788.34,621.91 L787.91,623.29 L787.48,624.67 L787.04,626.05 L786.60,627.43 L786.15,628.80 L785.69,630.17 L785.23,631.54 L784.76,632.91 L784.29,634.28 L783.81,635.64 L783.33,637.00 L782.84,638.36 L782.34,639.72 L781.84,641.08 L781.34,642.44 L780.83,643.79 L780.31,645.15 L779.79,646.50 L779.27,647.85 L778.74,649.20 L778.21,650.55 L777.68,651.89 L777.14,653.24 L776.60,654.59 L776.07,655.93 L775.53,657.28 L774.99,658.63 L774.46,659.97 L773.93,661.32 L773.40,662.67 L772.88,664.01 L772.36,665.36 L771.85,666.71 L771.35,668.06 L770.85,669.41 L770.36,670.77 L769.88,672.12 L769.41,673.48 L768.94,674.84 L768.49,676.20 L768.06,677.56 L767.63,678.93 L767.22,680.30 L766.82,681.67 L766.44,683.04 L766.07,684.42 L765.72,685.80 L765.39,687.19 L765.08,688.57 L764.78,689.97 L764.50,691.36 L764.25,692.76 L764.01,694.16 L763.80,695.57 L763.60,696.99 L763.43,698.40 L763.27,699.82 L763.13,701.24 L763.00,702.67 L762.89,704.10 L762.79,705.53 L762.71,706.97 L762.64,708.41 L762.58,709.85 L762.53,711.29 L762.49,712.74 L762.46,714.18 L762.44,715.63 L762.43,717.08 L762.42,718.54 L762.41,719.99 L762.41,721.44 L762.42,722.90 L762.43,724.36 L762.43,725.81 L762.44,727.27 L762.45,728.73 L762.46,730.18 L762.46,731.64 L762.47,733.10 L762.47,734.56 L762.46,736.01 L762.45,737.47 L762.43,738.92 L762.41,740.37 L762.37,741.83 L762.33,743.28 L762.28,744.73 L762.22,746.17 L762.14,747.62 L762.06,749.06 L761.97,750.50 L761.86,751.94 L761.75,753.38 L761.63,754.82 L761.50,756.26 L761.36,757.69 L761.21,759.13 L761.05,760.56 L760.89,761.99 L760.72,763.42 L760.54,764.85 L760.36,766.27 L760.17,767.70 L759.97,769.13 L759.77,770.55 L759.56,771.98 L759.35,773.40 L759.13,774.82 L758.91,776.24 L758.68,777.67 L758.45,779.09 L758.22,780.51 L757.98,781.93 L757.74,783.35 L757.49,784.77 L757.24,786.18 L756.99,787.60 L756.74,789.02 L756.49,790.44 L756.24,791.86 L755.98,793.28 L755.72,794.70 L755.47,796.11 L755.21,797.53 L754.95,798.95 L754.70,800.37 L754.44,801.79 L754.19,803.21 L753.93,804.63 L753.68,806.05 L753.43,807.47 L753.18,808.90 L752.94,810.32 L752.69,811.74 L752.45,813.17 L752.22,814.59 L751.98,816.02 L751.75,817.44 L751.53,818.87 L751.31,820.30 L751.09,821.73 L750.88,823.16 L750.68,824.60 L750.48,826.03 L750.29,827.46 L750.10,828.90 L742.1,828.6 Z" fill="#3aa37a" fill-opacity="0.52"/>
<path d="M747.90,236.90 L748.17,238.39 L748.47,239.87 L748.81,241.32 L749.18,242.75 L749.59,244.16 L750.03,245.55 L750.50,246.92 L751.01,248.28 L751.54,249.61 L752.11,250.92 L752.71,252.22 L753.33,253.50 L753.98,254.76 L754.66,256.00 L755.37,257.22 L756.10,258.43 L756.86,259.63 L757.64,260.81 L758.45,261.97 L759.28,263.12 L760.13,264.25 L761.00,265.37 L761.90,266.47 L762.81,267.56 L763.74,268.64 L764.69,269.70 L765.66,270.76 L766.65,271.80 L767.65,272.82 L768.66,273.84 L769.70,274.85 L770.74,275.84 L771.80,276.83 L772.87,277.80 L773.96,278.76 L775.05,279.72 L776.15,280.67 L777.27,281.61 L778.39,282.54 L779.52,283.46 L780.66,284.37 L781.80,285.28 L782.95,286.18 L784.11,287.08 L785.27,287.96 L786.43,288.85 L787.60,289.72 L788.77,290.60 L789.94,291.46 L791.11,292.33 L792.28,293.19 L793.45,294.04 L794.63,294.89 L795.80,295.74 L796.98,296.58 L798.15,297.42 L799.33,298.26 L800.51,299.09 L801.69,299.92 L802.87,300.74 L804.05,301.56 L805.24,302.38 L806.42,303.20 L807.61,304.01 L808.79,304.82 L809.98,305.63 L811.17,306.43 L812.36,307.23 L813.55,308.03 L814.74,308.83 L815.93,309.62 L817.12,310.42 L818.31,311.21 L819.51,312.00 L820.70,312.78 L821.90,313.57 L823.10,314.35 L824.29,315.13 L825.49,315.91 L826.69,316.69 L827.89,317.47 L829.09,318.25 L830.29,319.02 L831.49,319.80 L832.70,320.57 L833.90,321.34 L835.11,322.12 L836.31,322.89 L837.52,323.66 L838.72,324.43 L839.93,325.20 L841.14,325.97 L842.35,326.74 L843.56,327.52 L844.77,328.29 L845.98,329.06 L847.19,329.83 L848.40,330.60 L849.62,331.38 L850.83,332.15 L852.05,332.93 L853.26,333.70 L854.48,334.48 L855.69,335.26 L856.91,336.04 L858.13,336.82 L859.34,337.60 L860.56,338.38 L861.78,339.17 L863.00,339.96 L864.22,340.74 L865.44,341.54 L866.66,342.33 L867.88,343.12 L869.11,343.92 L870.33,344.72 L871.55,345.52 L872.77,346.33 L874.00,347.14 L875.22,347.95 L876.44,348.76 L877.65,349.59 L878.86,350.41 L880.07,351.24 L881.28,352.08 L882.47,352.93 L883.67,353.78 L884.85,354.64 L886.03,355.51 L887.20,356.38 L888.36,357.27 L889.51,358.17 L890.65,359.07 L891.78,359.99 L892.89,360.91 L894.00,361.85 L895.09,362.80 L896.17,363.76 L897.23,364.74 L898.28,365.73 L899.31,366.73 L900.33,367.75 L901.32,368.78 L902.30,369.83 L903.27,370.89 L904.21,371.97 L905.13,373.07 L906.03,374.18 L906.91,375.31 L907.77,376.46 L908.60,377.63 L909.42,378.81 L910.20,380.01 L910.97,381.22 L911.71,382.45 L912.42,383.69 L913.11,384.95 L913.77,386.22 L914.40,387.50 L915.00,388.80 L915.58,390.11 L916.13,391.42 L916.65,392.75 L917.14,394.09 L917.59,395.44 L918.02,396.80 L918.41,398.17 L918.78,399.54 L919.10,400.93 L919.40,402.32 L919.66,403.71 L919.89,405.12 L920.08,406.52 L920.23,407.94 L920.35,409.35 L920.43,410.77 L920.48,412.20 L920.48,413.63 L920.45,415.05 L920.39,416.49 L920.29,417.92 L920.15,419.35 L919.98,420.78 L919.78,422.21 L919.55,423.64 L919.28,425.06 L918.99,426.48 L918.66,427.90 L918.31,429.32 L917.93,430.73 L917.52,432.13 L917.08,433.53 L916.62,434.92 L916.13,436.30 L915.62,437.67 L915.09,439.04 L914.53,440.39 L913.95,441.74 L913.35,443.07 L912.73,444.39 L912.09,445.70 L911.44,447.00 L910.76,448.28 L910.06,449.56 L909.35,450.81 L908.63,452.06 L907.88,453.30 L907.12,454.52 L906.35,455.73 L905.56,456.94 L904.76,458.13 L903.94,459.31 L903.12,460.49 L902.28,461.65 L901.42,462.81 L900.56,463.96 L899.69,465.10 L898.81,466.23 L897.91,467.36 L897.01,468.48 L896.10,469.59 L895.19,470.70 L894.26,471.81 L893.33,472.90 L892.39,474.00 L891.45,475.09 L890.50,476.18 L889.55,477.26 L888.60,478.34 L887.64,479.42 L886.68,480.50 L885.71,481.57 L884.75,482.64 L883.78,483.72 L882.81,484.79 L881.84,485.86 L880.87,486.93 L879.90,488.00 L878.93,489.07 L877.96,490.14 L876.99,491.21 L876.01,492.27 L875.04,493.34 L874.06,494.41 L873.09,495.48 L872.12,496.54 L871.14,497.61 L870.17,498.68 L869.19,499.75 L868.22,500.81 L867.24,501.88 L866.27,502.95 L865.30,504.02 L864.32,505.08 L863.35,506.15 L862.38,507.22 L861.40,508.29 L860.43,509.36 L859.46,510.43 L858.49,511.50 L857.52,512.58 L856.56,513.65 L855.59,514.72 L854.62,515.80 L853.66,516.87 L852.70,517.95 L851.73,519.03 L850.77,520.11 L849.82,521.19 L848.86,522.27 L847.90,523.35 L846.95,524.44 L846.00,525.52 L845.05,526.61 L844.10,527.70 L843.15,528.79 L842.21,529.88 L841.27,530.97 L840.33,532.07 L839.39,533.17 L838.46,534.26 L837.52,535.37 L836.59,536.47 L835.67,537.57 L834.74,538.68 L833.82,539.79 L832.90,540.90 L831.98,542.01 L831.07,543.13 L830.16,544.25 L829.26,545.37 L828.35,546.49 L827.45,547.62 L826.56,548.75 L825.66,549.88 L824.77,551.01 L823.89,552.15 L823.00,553.29 L822.13,554.43 L821.25,555.58 L820.38,556.73 L819.51,557.88 L818.65,559.04 L817.79,560.19 L816.94,561.36 L816.09,562.52 L815.25,563.69 L814.41,564.86 L813.58,566.04 L812.75,567.22 L811.94,568.41 L811.13,569.60 L810.33,570.79 L809.54,571.99 L808.76,573.19 L807.98,574.40 L807.22,575.62 L806.47,576.84 L805.73,578.06 L804.99,579.30 L804.28,580.53 L803.57,581.78 L802.88,583.03 L802.19,584.28 L801.53,585.54 L800.87,586.81 L800.23,588.09 L799.61,589.37 L799.00,590.66 L798.41,591.96 L797.83,593.27 L797.27,594.58 L796.73,595.90 L796.20,597.23 L795.69,598.56 L795.19,599.90 L794.71,601.25 L794.24,602.61 L793.79,603.97 L793.34,605.33 L792.90,606.70 L792.47,608.08 L792.05,609.46 L791.63,610.83 L791.22,612.22 L790.81,613.60 L790.40,614.99 L789.99,616.37 L789.58,617.76 L789.17,619.14 L788.75,620.53 L788.34,621.91 L787.91,623.29 L787.48,624.67 L787.04,626.05 L786.60,627.43 L786.15,628.80 L785.69,630.17 L785.23,631.54 L784.76,632.91 L784.29,634.28 L783.81,635.64 L783.33,637.00 L782.84,638.36 L782.34,639.72 L781.84,641.08 L781.34,642.44 L780.83,643.79 L780.31,645.15 L779.79,646.50 L779.27,647.85 L778.74,649.20 L778.21,650.55 L777.68,651.89 L777.14,653.24 L776.60,654.59 L776.07,655.93 L775.53,657.28 L774.99,658.63 L774.46,659.97 L773.93,661.32 L773.40,662.67 L772.88,664.01 L772.36,665.36 L771.85,666.71 L771.35,668.06 L770.85,669.41 L770.36,670.77 L769.88,672.12 L769.41,673.48 L768.94,674.84 L768.49,676.20 L768.06,677.56 L767.63,678.93 L767.22,680.30 L766.82,681.67 L766.44,683.04 L766.07,684.42 L765.72,685.80 L765.39,687.19 L765.08,688.57 L764.78,689.97 L764.50,691.36 L764.25,692.76 L764.01,694.16 L763.80,695.57 L763.60,696.99 L763.43,698.40 L763.27,699.82 L763.13,701.24 L763.00,702.67 L762.89,704.10 L762.79,705.53 L762.71,706.97 L762.64,708.41 L762.58,709.85 L762.53,711.29 L762.49,712.74 L762.46,714.18 L762.44,715.63 L762.43,717.08 L762.42,718.54 L762.41,719.99 L762.41,721.44 L762.42,722.90 L762.43,724.36 L762.43,725.81 L762.44,727.27 L762.45,728.73 L762.46,730.18 L762.46,731.64 L762.47,733.10 L762.47,734.56 L762.46,736.01 L762.45,737.47 L762.43,738.92 L762.41,740.37 L762.37,741.83 L762.33,743.28 L762.28,744.73 L762.22,746.17 L762.14,747.62 L762.06,749.06 L761.97,750.50 L761.86,751.94 L761.75,753.38 L761.63,754.82 L761.50,756.26 L761.36,757.69 L761.21,759.13 L761.05,760.56 L760.89,761.99 L760.72,763.42 L760.54,764.85 L760.36,766.27 L760.17,767.70 L759.97,769.13 L759.77,770.55 L759.56,771.98 L759.35,773.40 L759.13,774.82 L758.91,776.24 L758.68,777.67 L758.45,779.09 L758.22,780.51 L757.98,781.93 L757.74,783.35 L757.49,784.77 L757.24,786.18 L756.99,787.60 L756.74,789.02 L756.49,790.44 L756.24,791.86 L755.98,793.28 L755.72,794.70 L755.47,796.11 L755.21,797.53 L754.95,798.95 L754.70,800.37 L754.44,801.79 L754.19,803.21 L753.93,804.63 L753.68,806.05 L753.43,807.47 L753.18,808.90 L752.94,810.32 L752.69,811.74 L752.45,813.17 L752.22,814.59 L751.98,816.02 L751.75,817.44 L751.53,818.87 L751.31,820.30 L751.09,821.73 L750.88,823.16 L750.68,824.60 L750.48,826.03 L750.29,827.46 L750.10,828.90" fill="none" stroke="#000" stroke-width="3.0" stroke-linecap="round" stroke-linejoin="round"/>
<line x1="742.10" y1="858" x2="742.10" y2="865.2" stroke="#333333" stroke-width="2.4"/>
<text x="742.10" y="888.3" text-anchor="middle" font-family="Liberation Sans" font-size="24" fill="#4d4d4d">0.00</text>
<line x1="789.85" y1="858" x2="789.85" y2="865.2" stroke="#333333" stroke-width="2.4"/>
<text x="789.85" y="888.3" text-anchor="middle" font-family="Liberation Sans" font-size="24" fill="#4d4d4d">0.05</text>
<line x1="837.60" y1="858" x2="837.60" y2="865.2" stroke="#333333" stroke-width="2.4"/>
<text x="837.60" y="888.3" text-anchor="middle" font-family="Liberation Sans" font-size="24" fill="#4d4d4d">0.10</text>
<line x1="885.35" y1="858" x2="885.35" y2="865.2" stroke="#333333" stroke-width="2.4"/>
<text x="885.35" y="888.3" text-anchor="middle" font-family="Liberation Sans" font-size="24" fill="#4d4d4d">0.15</text>
<text x="831.5" y="922.5" text-anchor="middle" font-family="Liberation Sans" font-size="29.6" fill="#000">density</text>
<clipPath id="cp"><rect x="733.4" y="0" width="196.2" height="200"/></clipPath>
<g clip-path="url(#cp)" font-family="Liberation Sans" font-size="29.5" fill="#000" text-anchor="middle">
<text x="829.7" y="68.5">Pearson's correlation</text>
<text x="831.1" y="111">R=−0.637</text>
<text x="831.35" y="153.3">P=6.88e−43</text>
</g>
</svg>
</body></html>
